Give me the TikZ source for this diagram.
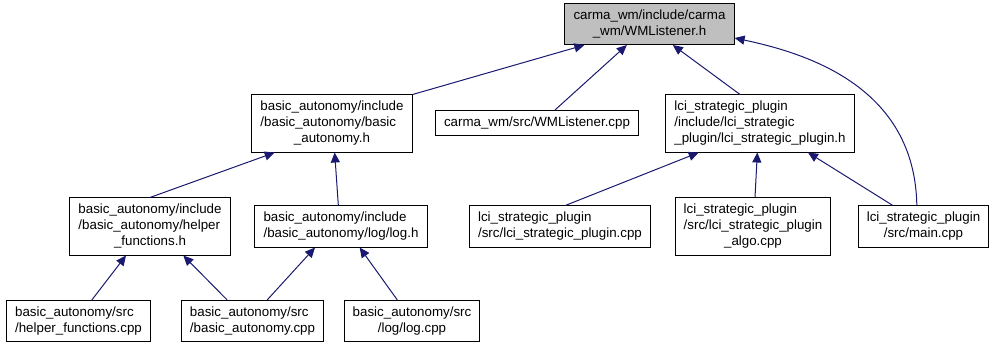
\documentclass[tikz,border=0pt]{standalone}
\usepackage{fontspec}
\setmainfont{Liberation Sans}
\usetikzlibrary{arrows.meta}
\definecolor{edgeblue}{HTML}{191970}
\definecolor{rootgray}{HTML}{BFBFBF}
% last line of a file label is centred, the others flush left
\newcommand{\lastln}[1]{\multicolumn{1}{@{}c@{}}{#1}}
\newcommand{\flab}[1]{\begin{tabular}{@{}l@{}}#1\end{tabular}}
\begin{document}
\begin{tikzpicture}[x=0.75pt,y=-0.75pt,
        file/.style={draw=black,line width=0.75pt,inner xsep=6.5pt,inner ysep=3.4pt,
            font=\fontsize{10}{12}\selectfont},
        dep/.style={->,>={Triangle[length=7.5pt,width=6.8pt]},color=edgeblue,line width=0.75pt}]
\useasboundingbox (0,0) rectangle (995,349);

% the header and the files that include it
\node[file,fill=rootgray] (root) at (649.5,24) {\flab{carma\_wm/include/carma\\\lastln{\_wm/WMListener.h}}};

\node[file] (bah) at (332,123.5) {\flab{basic\_autonomy/include\\/basic\_autonomy/basic\\\lastln{\_autonomy.h}}};
\node[file] (wmcpp) at (537,123) {\flab{carma\_wm/src/WMListener.cpp}};
\node[file] (lcih) at (760,123.5) {\flab{lci\_strategic\_plugin\\/include/lci\_strategic\\\lastln{\_plugin/lci\_strategic\_plugin.h}}};

\node[file] (hfh) at (150,226.5) {\flab{basic\_autonomy/include\\/basic\_autonomy/helper\\\lastln{\_functions.h}}};
\node[file] (logh) at (341,226.5) {\flab{basic\_autonomy/include\\\lastln{/basic\_autonomy/log/log.h}}};
\node[file] (lcicpp) at (560,226.5) {\flab{lci\_strategic\_plugin\\\lastln{/src/lci\_strategic\_plugin.cpp}}};
\node[file] (lcialgo) at (753,226.5) {\flab{lci\_strategic\_plugin\\/src/lci\_strategic\_plugin\\\lastln{\_algo.cpp}}};
\node[file] (maincpp) at (923.5,226.5) {\flab{lci\_strategic\_plugin\\\lastln{/src/main.cpp}}};

\node[file] (hfcpp) at (78.5,321) {\flab{basic\_autonomy/src\\\lastln{/helper\_functions.cpp}}};
\node[file] (bacpp) at (252.5,321) {\flab{basic\_autonomy/src\\\lastln{/basic\_autonomy.cpp}}};
\node[file] (logcpp) at (412,321) {\flab{basic\_autonomy/src\\\lastln{/log/log.cpp}}};

% include edges
\draw[dep] (bah.north east) -- ([xshift=15pt]root.south west);
\draw[dep] ([xshift=13.5pt]wmcpp.north) -- ([xshift=-17pt]root.south);
\draw[dep] ([xshift=-15pt]lcih.north) -- ([xshift=17.5pt]root.south);
\draw[dep] ([xshift=-5pt]maincpp.north) .. controls +(-2,-120) and +(70,15) .. ([yshift=-10.5pt]root.east);

\draw[dep] (hfh.north) -- ([xshift=-43pt]bah.south);
\draw[dep] ([xshift=-2pt]logh.north) -- ([xshift=2pt]bah.south);
\draw[dep] ([xshift=4pt]lcicpp.north) -- ([xshift=-46pt]lcih.south);
\draw[dep] ([xshift=1.5pt]lcialgo.north) -- ([xshift=-2pt]lcih.south);
\draw[dep] ([xshift=-23pt]maincpp.north) -- ([xshift=36pt]lcih.south);

\draw[dep] ([xshift=10pt]hfcpp.north) -- ([xshift=-18pt]hfh.south);
\draw[dep] ([xshift=-19pt]bacpp.north) -- ([xshift=25pt]hfh.south);
\draw[dep] ([xshift=11pt]bacpp.north) -- ([xshift=-19.5pt]logh.south);
\draw[dep] ([xshift=-11pt]logcpp.north) -- ([xshift=14pt]logh.south);
\end{tikzpicture}
\end{document}
